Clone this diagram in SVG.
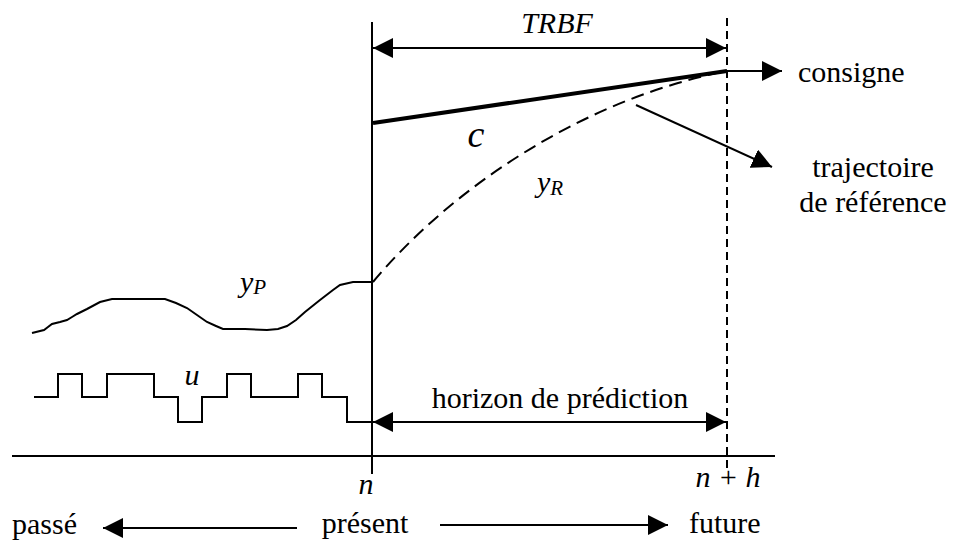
<svg xmlns="http://www.w3.org/2000/svg" width="953" height="545" viewBox="0 0 953 545">
<style>
  .ln { fill: none; stroke: #000; stroke-width: 2; }
  .dash { fill: none; stroke: #000; stroke-width: 2; stroke-dasharray: 8 5; }
  .curve { fill: none; stroke: #000; stroke-width: 2; stroke-dasharray: 13 7; }
  .thick { fill: none; stroke: #000; stroke-width: 4; }
  text { fill: #000; }
  .txt { font-size: 30px; }
  .math { font-style: italic; font-size: 30px; }
  .sub { font-style: italic; font-size: 21px; }
</style>
<defs>
  <marker id="ah" markerWidth="20" markerHeight="20" refX="20" refY="10" orient="auto-start-reverse" markerUnits="userSpaceOnUse">
    <path d="M0,0 L20,10 L0,20 z" fill="#000"/>
  </marker>
</defs>
<rect width="953" height="545" fill="#fff"/>

<g id="connectors">
  <line class="ln" x1="12" y1="456" x2="775" y2="456"/>
  <line class="ln" x1="372" y1="22" x2="372" y2="474"/>
  <line class="dash" x1="727" y1="18" x2="727" y2="470"/>
  <line class="ln" x1="373" y1="48" x2="726" y2="48" marker-start="url(#ah)" marker-end="url(#ah)"/>
  <line class="ln" x1="373" y1="422" x2="726" y2="422" marker-start="url(#ah)" marker-end="url(#ah)"/>
  <line class="thick" x1="373" y1="123" x2="727" y2="71"/>
  <line class="ln" x1="727" y1="71" x2="782" y2="71" marker-end="url(#ah)"/>
  <path class="curve" d="M373,282 C450,190 580,100 727,71"/>
  <line class="ln" x1="636" y1="105" x2="772" y2="167" marker-end="url(#ah)"/>
  <path class="ln" d="M32,333 L44,330 L48,327 L52,324 L60,322 L67,320 L72,317 L77,314 L87,309 L100,302 L112,299 L165,299 L176,303 L187,308 L197,315 L207,322 L216,326 L223,329 L245,329 L267,330 L278,329 L287,326 L296,320 L305,312 L320,300 L333,290 L340,285 L353,282 L372,282"/>
  <path class="ln" d="M34,397 H58 V374 H82 V397 H107 V374 H154 V397 H178 V422 H202 V397 H227 V374 H251 V397 H298 V374 H322 V397 H347 V422 H372"/>
  <line class="ln" x1="297" y1="528" x2="103" y2="528" marker-end="url(#ah)"/>
  <line class="ln" x1="440" y1="525" x2="668" y2="525" marker-end="url(#ah)"/>
</g>

<g id="label-trbf"><text class="math" x="557" y="33" text-anchor="middle" font-family="Liberation Serif, serif">TRBF</text></g>
<g id="label-c"><text class="math" x="476" y="147" text-anchor="middle" font-size="38" font-family="Liberation Serif, serif" style="font-size:38px">c</text></g>
<g id="label-yR"><text class="math" x="537" y="192" font-family="Liberation Serif, serif">y<tspan class="sub" dy="3">R</tspan></text></g>
<g id="label-yP"><text class="math" x="240" y="292" font-family="Liberation Serif, serif">y<tspan class="sub" dy="2">P</tspan></text></g>
<g id="label-u"><text class="math" x="192" y="385" text-anchor="middle" font-family="Liberation Serif, serif">u</text></g>
<g id="label-consigne"><text class="txt" x="798" y="82" font-family="Liberation Serif, serif">consigne</text></g>
<g id="label-trajectoire">
  <text class="txt" x="873" y="177" text-anchor="middle" font-family="Liberation Serif, serif">trajectoire</text>
  <text class="txt" x="873" y="212" text-anchor="middle" font-family="Liberation Serif, serif">de référence</text>
</g>
<g id="label-horizon"><text class="txt" x="560" y="408" text-anchor="middle" font-family="Liberation Serif, serif">horizon de prédiction</text></g>
<g id="label-n"><text class="math" x="366" y="494" text-anchor="middle" font-family="Liberation Serif, serif">n</text></g>
<g id="label-nh"><text class="math" x="728" y="487" text-anchor="middle" font-family="Liberation Serif, serif">n + h</text></g>
<g id="label-passe"><text class="txt" x="12" y="534" font-family="Liberation Serif, serif">passé</text></g>
<g id="label-present"><text class="txt" x="365" y="533" text-anchor="middle" font-family="Liberation Serif, serif">présent</text></g>
<g id="label-future"><text class="txt" x="689" y="533" font-family="Liberation Serif, serif">future</text></g>
</svg>
